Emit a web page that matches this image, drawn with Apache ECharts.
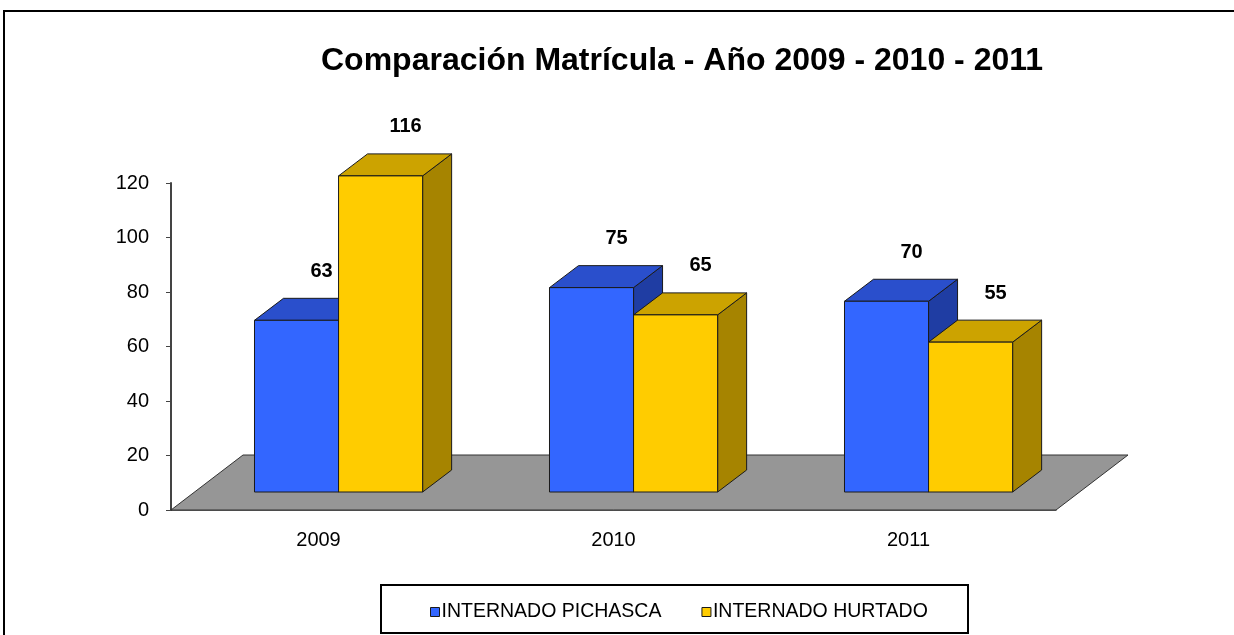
<!DOCTYPE html>
<html>
<head>
<meta charset="utf-8">
<title>Comparación Matrícula</title>
<script src="https://cdn.jsdelivr.net/npm/echarts@6/dist/echarts.min.js"></script>
<style>
  html, body { margin: 0; padding: 0; background: #fff; }
  #chart { width: 1234px; height: 635px; }
</style>
</head>
<body>
<div id="chart"></div>
<script>
const years = ['2009', '2010', '2011'];
const pichasca = [63, 75, 70];
const hurtado = [116, 65, 55];
const yTicks = [0, 20, 40, 60, 80, 100, 120];

// 3D look, in pixels
const FLOOR_DEPTH = [72, -55];
const BAR_SHIFT = [24, -18];
const BAR_DEPTH = [29, -22];

const faces = [
  { front: '#3366FF', top: '#2A4FCC', side: '#1F3DA3' },
  { front: '#FFCC00', top: '#CCA300', side: '#A68400' }
];

function renderFloor(params, api) {
  const band = api.size([1, 0])[0];
  const left = api.coord([0, 0]);
  const right = api.coord([years.length - 1, 0]);
  const x0 = left[0] - band / 2, x1 = right[0] + band / 2, y = left[1];
  const [dx, dy] = FLOOR_DEPTH;
  return {
    type: 'polygon',
    shape: { points: [[x0, y], [x1, y], [x1 + dx, y + dy], [x0 + dx, y + dy]] },
    style: { fill: '#969696', stroke: '#333', lineWidth: 1 }
  };
}

function makeBarRenderer(s) {
  return function (params, api) {
    const cat = api.value(0);
    const v = api.value(1);
    const band = api.size([1, 0])[0];
    const base = api.coord([cat, 0]);
    const top = api.coord([cat, v]);
    const w = band * 0.285;
    const x = base[0] - band * 0.217 + s * w;
    const yb = base[1] + BAR_SHIFT[1];
    const yt = top[1] + BAR_SHIFT[1];
    const [dx, dy] = BAR_DEPTH;
    const c = faces[s];
    const stroke = { stroke: '#1a1a1a', lineWidth: 1 };
    return {
      type: 'group',
      children: [
        {
          type: 'polygon',
          shape: { points: [[x + w, yt], [x + w + dx, yt + dy], [x + w + dx, yb + dy], [x + w, yb]] },
          style: Object.assign({ fill: c.side }, stroke)
        },
        {
          type: 'polygon',
          shape: { points: [[x, yt], [x + w, yt], [x + w + dx, yt + dy], [x + dx, yt + dy]] },
          style: Object.assign({ fill: c.top }, stroke)
        },
        {
          type: 'rect',
          shape: { x: x, y: yt, width: w, height: yb - yt },
          style: Object.assign({ fill: c.front }, stroke)
        },
        {
          type: 'text',
          style: {
            text: String(v),
            x: x + w / 2 + dx - 4,
            y: yt + dy - 27,
            align: 'center',
            verticalAlign: 'middle',
            fill: '#000',
            font: 'bold 20px "Liberation Sans", Arial, sans-serif'
          }
        }
      ]
    };
  };
}

const chart = echarts.init(document.getElementById('chart'), null, { renderer: 'canvas' });

chart.setOption({
  backgroundColor: '#fff',
  animation: false,
  textStyle: { fontFamily: '"Liberation Sans", Arial, sans-serif' },
  title: {
    text: 'Comparación Matrícula - Año 2009 - 2010 - 2011',
    left: 316,
    top: 40,
    textStyle: { fontSize: 32, fontWeight: 'bold', color: '#000' }
  },
  graphic: [
    {
      type: 'rect',
      shape: { x: 4, y: 11, width: 1250, height: 650 },
      style: { fill: 'none', stroke: '#000', lineWidth: 2 },
      z: 100
    },
    {
      type: 'rect',
      shape: { x: 381, y: 585, width: 587, height: 48 },
      style: { fill: 'none', stroke: '#000', lineWidth: 2 },
      z: 100
    }
  ],
  legend: {
    data: ['INTERNADO PICHASCA', 'INTERNADO HURTADO'],
    left: 425,
    top: 597,
    icon: 'rect',
    itemWidth: 9,
    itemHeight: 9,
    itemGap: 40,
    selectedMode: false,
    itemStyle: { borderColor: '#1a1a1a', borderWidth: 1 },
    textStyle: { fontSize: 19.5, color: '#000', padding: [0, 0, 0, -3] }
  },
  grid: { left: 171, right: 178, top: 183, bottom: 125 },
  xAxis: {
    type: 'category',
    data: years,
    axisLine: { lineStyle: { color: '#333', width: 1.5 } },
    axisTick: { length: 6, lineStyle: { color: '#333' } },
    axisLabel: { fontSize: 20, color: '#000', margin: 20 }
  },
  yAxis: {
    type: 'value',
    min: yTicks[0],
    max: yTicks[yTicks.length - 1],
    interval: yTicks[1] - yTicks[0],
    axisLine: { show: true, lineStyle: { color: '#444', width: 2 } },
    axisTick: { show: true, length: 5, lineStyle: { color: '#444' } },
    axisLabel: { fontSize: 20, color: '#000', margin: 22 },
    splitLine: { show: false }
  },
  series: [
    {
      name: 'floor',
      type: 'custom',
      renderItem: renderFloor,
      data: [[0, 0]],
      z: 1,
      silent: true
    },
    {
      name: 'INTERNADO PICHASCA',
      type: 'custom',
      renderItem: makeBarRenderer(0),
      itemStyle: { color: faces[0].front },
      data: pichasca.map((v, i) => [i, v]),
      z: 2
    },
    {
      name: 'INTERNADO HURTADO',
      type: 'custom',
      renderItem: makeBarRenderer(1),
      itemStyle: { color: faces[1].front },
      data: hurtado.map((v, i) => [i, v]),
      z: 3
    }
  ]
});

window.addEventListener('resize', () => chart.resize());
</script>
</body>
</html>
